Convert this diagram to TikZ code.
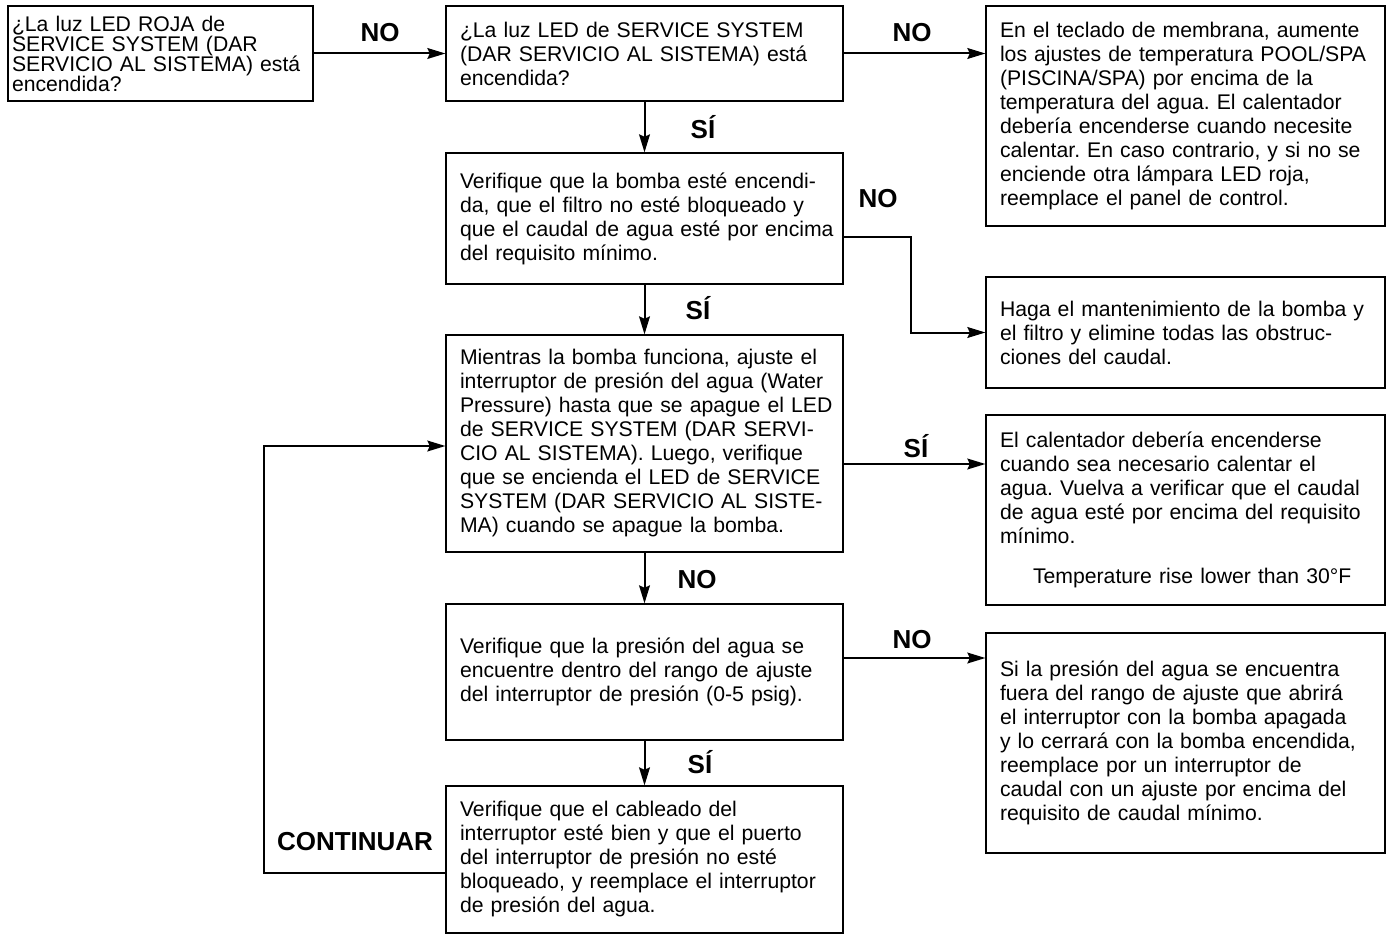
\documentclass[tikz,border=0pt]{standalone}
\usepackage{fontspec}
\setmainfont{Liberation Sans}
\usetikzlibrary{arrows.meta}

\begin{document}
\begin{tikzpicture}[x=0.5pt, y=-0.5pt,
        box/.style={draw, line width=0.6pt, inner xsep=7pt, inner ysep=0pt, align=left,
            font=\fontsize{10.6}{12}\selectfont\frenchspacing,
            execute at begin node={\rightskip=0pt minus 25pt\relax}},
        midbox/.style={box, text width=184.5pt},
        sidebox/.style={box, text width=185.5pt},
        answer/.style={font=\fontsize{13}{13}\selectfont\bfseries, inner sep=0pt},
        flow/.style={line width=1pt, -{Stealth[length=9pt, width=5.4pt, inset=1.2pt]}},
    ]
    % Column x-positions (pixel grid of the sheet)
    \def\cL{160.5}   % first question
    \def\cM{644.5}   % main checks
    \def\cR{1185.5}  % actions

    \useasboundingbox (0,0) rectangle (1390,936);

    % ===== First question =====
    \node[box, inner xsep=2pt, text width=148.5pt, minimum height=47.5pt, font=\fontsize{10.6}{10}\selectfont] (qRed) at (\cL, 53.5)
        {¿La luz LED ROJA de\\ SERVICE SYSTEM (DAR\\ SERVICIO AL SISTEMA) está\\ encendida?\\[3pt]};

    % ===== Main column =====
    \node[midbox, minimum height=47.5pt] (qLed) at (\cM, 53.5)
        {¿La luz LED de SERVICE SYSTEM\\ (DAR SERVICIO AL SISTEMA) está\\ encendida?};
    \node[midbox, minimum height=65.5pt] (pump) at (\cM, 218.5)
        {Verifique que la bomba esté encendi-\\ da, que el filtro no esté bloqueado y\\ que el caudal de agua esté por encima\\ del requisito mínimo.};
    \node[midbox, minimum height=108.5pt] (adjust) at (\cM, 443.5)
        {Mientras la bomba funciona, ajuste el\\ interruptor de presión del agua (Water\\ Pressure) hasta que se apague el LED\\ de SERVICE SYSTEM (DAR SERVI-\\ CIO AL SISTEMA). Luego, verifique\\ que se encienda el LED de SERVICE\\ SYSTEM (DAR SERVICIO AL SISTE-\\ MA) cuando se apague la bomba.};
    \node[midbox, minimum height=68pt] (range) at (\cM, 672)
        {Verifique que la presión del agua se\\ encuentre dentro del rango de ajuste\\ del interruptor de presión (0-5 psig).};
    \node[midbox, minimum height=73.5pt] (wiring) at (\cM, 859.5)
        {Verifique que el cableado del\\ interruptor esté bien y que el puerto\\ del interruptor de presión no esté\\ bloqueado, y reemplace el interruptor\\ de presión del agua.};

    % ===== Actions =====
    \node[sidebox, minimum height=110pt] (keypad) at (\cR, 116)
        {En el teclado de membrana, aumente\\ los ajustes de temperatura POOL/SPA\\ (PISCINA/SPA) por encima de la\\ temperatura del agua. El calentador\\ debería encenderse cuando necesite\\ calentar. En caso contrario, y si no se\\ enciende otra lámpara LED roja,\\ reemplace el panel de control.};
    \node[sidebox, minimum height=55.5pt] (service) at (\cR, 332.5)
        {Haga el mantenimiento de la bomba y\\ el filtro y elimine todas las obstruc-\\ ciones del caudal.};
    \node[sidebox, minimum height=95pt] (heater) at (\cR, 510)
        {El calentador debería encenderse\\ cuando sea necesario calentar el\\ agua. Vuelva a verificar que el caudal\\ de agua esté por encima del requisito\\ mínimo.\\[8pt] \hspace*{16.5pt}Temperature rise lower than 30°F};
    \node[sidebox, minimum height=110pt] (flowsw) at (\cR, 743)
        {Si la presión del agua se encuentra\\ fuera del rango de ajuste que abrirá\\ el interruptor con la bomba apagada\\ y lo cerrará con la bomba encendida,\\ reemplace por un interruptor de\\ caudal con un ajuste por encima del\\ requisito de caudal mínimo.};

    % ===== Connectors =====
    \draw[flow] (qRed) -- (qLed);
    \draw[flow] (qLed) -- (qLed -| keypad.west);
    \draw[flow] (qLed) -- (pump);
    \draw[flow] ([yshift=-9.25pt]pump.east) -- ++(33.5pt,0) |- (service.west);
    \draw[flow] (pump) -- (adjust);
    \draw[flow] ([yshift=-10.25pt]adjust.east) -- ([yshift=-10.25pt]adjust.east -| heater.west);
    \draw[flow] (adjust) -- (range);
    \draw[flow] ([yshift=7pt]range.east) -- ([yshift=7pt]range.east -| flowsw.west);
    \draw[flow] (range) -- (wiring);
    \draw[flow] ([yshift=-6.75pt]wiring.west) -- ++(-90.5pt,0) |- ([yshift=-1.25pt]adjust.west);

    % ===== Answers =====
    \node[answer] (aNo1) at (380, 33) {NO};
    \node[answer] (aNo2) at (912, 33) {NO};
    \node[answer] (aSi1) at (703, 127) {SÍ};
    \node[answer] (aNo3) at (878, 199) {NO};
    \node[answer] (aSi2) at (698, 308) {SÍ};
    \node[answer] (aSi3) at (916, 446) {SÍ};
    \node[answer] (aNo4) at (697, 580) {NO};
    \node[answer] (aNo5) at (912, 640) {NO};
    \node[answer] (aSi4) at (700, 762) {SÍ};
    \node[answer] (aCont) at (355, 842) {CONTINUAR};

\end{tikzpicture}
\end{document}
